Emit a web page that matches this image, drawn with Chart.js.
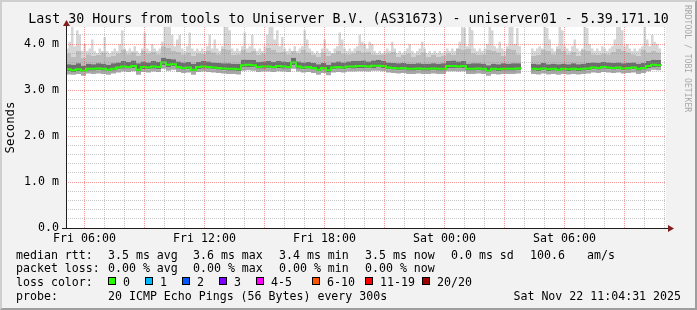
<!DOCTYPE html>
<html>
<head>
<meta charset="utf-8">
<title>SmokePing - uniserver01</title>
<script src="https://cdn.jsdelivr.net/npm/chart.js@4.4.1/dist/chart.umd.min.js"></script>
<style>
html,body{margin:0;padding:0;background:#f2f2f2;width:697px;height:310px;overflow:hidden;}
#wrap{position:relative;width:697px;height:310px;background:#f2f2f2;}
#c{position:absolute;left:0;top:0;}
.frame{position:absolute;left:0;top:0;width:693px;height:306px;border-style:solid;border-width:2px;border-color:#cfcfcf #9e9e9e #9e9e9e #cfcfcf;pointer-events:none;}
.t{position:absolute;font-family:'DejaVu Sans Mono',monospace;white-space:pre;color:#000;font-size:11.6px;line-height:14px;}
.title{left:0;width:697px;text-align:center;top:11px;font-size:13.3px;line-height:16px;}
.box{position:absolute;width:6px;height:6px;border:1px solid #000;top:277px;}
.wm{position:absolute;left:683px;top:5px;font-family:'DejaVu Sans Mono',monospace;font-size:8.1px;line-height:9px;color:#a8a8a8;writing-mode:vertical-rl;white-space:pre;}
</style>
</head>
<body>
<div id="wrap">
<canvas id="c" width="697" height="310"></canvas>
<div class="t title">Last 30 Hours from tools to Uniserver B.V. (AS31673) - uniserver01 - 5.39.171.10</div>
<div class="wm">RRDTOOL / TOBI OETIKER</div>
<div id="legend"></div>
<div class="frame"></div>
</div>
<script>
// ---- time axis ----
const startHour = 5 + 4/60 + 31/3600;   // Fri 05:04:31 (hours since Fri 00:00)
const spanHours = 30;
const stepHours = 0.25;      // median / smoke bands
const peakStepHours = 0.125; // highest ping
const xTickHours = [6, 12, 18, 24, 30];
const xTickLabels = ['Fri 06:00', 'Fri 12:00', 'Fri 18:00', 'Sat 00:00', 'Sat 06:00'];
const yTickValues = [0, 1, 2, 3, 4];
const yTickLabels = ['0.0', '1.0 m', '2.0 m', '3.0 m', '4.0 m'];
const yMax = 4.37;

// ---- series (ms) ----
const medianRtt = [
 3.45,3.43,3.45,3.42,3.46,3.46,3.47,3.46,3.44,3.46,
 3.49,3.51,3.50,3.52,3.44,3.50,3.49,3.51,3.50,3.60,
 3.55,3.56,3.50,3.48,3.49,3.44,3.50,3.51,3.50,3.49,
 3.48,3.47,3.46,3.46,3.45,3.54,3.55,3.54,3.50,3.51,
 3.51,3.50,3.52,3.51,3.50,3.60,3.51,3.49,3.50,3.48,
 3.44,3.48,3.43,3.49,3.50,3.49,3.51,3.51,3.52,3.52,
 3.51,3.53,3.53,3.52,3.49,3.48,3.47,3.48,3.46,3.46,
 3.47,3.46,3.46,3.47,3.46,3.46,3.52,3.52,3.51,3.52,
 3.46,3.46,3.47,3.46,3.42,3.46,3.45,3.46,3.46,3.46,
 3.47,3.46,null,3.46,3.45,3.47,3.45,3.46,3.44,3.46,
 3.45,3.46,3.45,3.46,3.47,3.49,3.48,3.50,3.49,3.48,
 3.49,3.47,3.48,3.49,3.46,3.48,3.52,3.55,3.54,3.53];

const smokeMax = [
 3.90,4.05,4.40,3.95,4.30,4.20,3.85,4.00,3.85,3.90,
 4.10,3.85,3.80,3.90,3.85,4.15,3.85,3.80,3.85,3.90,
 3.85,4.00,4.30,3.90,3.85,3.90,3.85,3.95,3.85,3.80,
 3.90,4.25,3.90,3.85,4.00,3.90,3.85,3.90,4.05,4.40,
 4.40,4.40,4.20,3.95,4.10,4.20,3.90,3.85,3.95,4.25,
 3.90,3.85,3.90,3.85,3.90,3.85,3.95,4.20,3.90,4.10,
 3.90,3.85,3.95,4.40,4.40,4.30,3.90,3.85,3.90,3.85,
 3.95,4.25,3.90,3.95,4.20,3.90,3.85,3.90,3.85,3.95,
 4.20,4.40,4.40,4.10,4.30,3.95,4.15,3.90,3.85,3.90,
 3.85,3.95,3.85,3.90,3.95,4.30,4.10,3.90,3.85,3.80,
 3.85,3.80,3.90,4.10,3.90,3.85,3.80,3.90,3.95,4.25,
 4.10,3.90,3.85,3.90,3.85,3.90,3.95,4.20,4.05,4.00,
 3.90,4.05,4.00,3.85,3.80,3.85,3.80,3.85,3.90,3.85,
 4.05,3.90,3.80,3.85,3.80,3.85,3.90,4.00,3.85,3.80,
 3.85,3.90,4.05,3.90,3.80,3.85,3.80,3.85,3.80,3.85,
 3.80,3.85,3.90,3.85,3.90,3.85,3.90,4.05,4.40,4.35,
 3.95,4.40,4.30,3.90,3.85,3.90,3.85,3.90,4.00,4.40,
 4.30,3.95,3.90,4.05,3.90,3.85,3.95,4.40,4.40,4.00,
 4.35,3.95,4.40,4.40,null,null,3.90,3.85,3.90,3.95,
 3.90,4.40,4.35,4.10,3.90,3.85,3.95,4.40,4.30,3.95,
 3.90,3.85,3.95,4.10,3.90,3.85,3.90,4.40,4.35,4.00,
 3.90,3.85,3.90,3.85,3.95,3.90,3.85,3.90,3.95,4.10,
 4.40,4.40,4.30,3.95,4.00,3.90,3.85,3.90,3.85,3.90,
 3.95,4.40,4.10,3.95,4.20,4.05,4.00,3.90,3.95,3.90];

const smokeMid = [
 3.80,3.72,3.85,3.70,3.78,3.74,3.76,3.82,3.72,3.75,
 3.80,3.88,3.78,3.82,3.74,3.86,3.80,3.84,3.78,3.95,
 3.92,3.86,3.84,3.78,3.82,3.74,3.80,3.79,3.86,3.82,
 3.78,3.90,3.88,3.76,3.78,3.88,3.82,3.86,3.76,3.80,
 3.92,3.88,3.82,3.84,3.78,3.85,3.80,3.88,3.82,3.76,
 3.72,3.82,3.74,3.80,3.86,3.80,3.78,3.80,3.86,3.82,
 3.84,3.78,3.76,3.78,3.80,3.84,3.72,3.76,3.80,3.72,
 3.76,3.82,3.72,3.76,3.72,3.75,3.80,3.76,3.90,3.88,
 3.90,3.80,3.76,3.78,3.88,3.86,3.82,3.74,3.90,3.88,
 3.78,3.88,null,3.74,3.76,3.88,3.86,3.78,3.90,3.86,
 3.78,3.84,3.74,3.88,3.86,3.78,3.76,3.80,3.78,3.84,
 3.90,3.86,3.82,3.78,3.74,3.88,3.82,3.86,3.82,3.80];

const smokeHi = [
 3.56,3.55,3.58,3.53,3.57,3.56,3.58,3.57,3.55,3.58,
 3.60,3.63,3.61,3.64,3.58,3.62,3.60,3.63,3.61,3.70,
 3.68,3.67,3.62,3.60,3.61,3.57,3.61,3.63,3.62,3.60,
 3.59,3.58,3.58,3.57,3.57,3.66,3.66,3.65,3.61,3.62,
 3.63,3.61,3.63,3.62,3.61,3.70,3.62,3.60,3.61,3.59,
 3.56,3.59,3.55,3.60,3.62,3.60,3.62,3.63,3.63,3.64,
 3.62,3.64,3.65,3.63,3.60,3.59,3.58,3.59,3.57,3.57,
 3.58,3.57,3.57,3.58,3.57,3.58,3.63,3.64,3.62,3.63,
 3.57,3.58,3.58,3.57,3.54,3.57,3.56,3.58,3.57,3.58,
 3.58,3.57,null,3.57,3.56,3.59,3.56,3.57,3.56,3.57,
 3.56,3.58,3.56,3.57,3.59,3.60,3.59,3.61,3.60,3.59,
 3.60,3.58,3.59,3.60,3.57,3.59,3.63,3.66,3.65,3.64];

const smokeLo = [
 3.41,3.39,3.41,3.38,3.42,3.42,3.43,3.42,3.40,3.42,
 3.45,3.46,3.46,3.47,3.40,3.45,3.45,3.46,3.45,3.54,
 3.50,3.51,3.46,3.44,3.45,3.40,3.45,3.46,3.46,3.45,
 3.44,3.43,3.42,3.42,3.41,3.49,3.50,3.49,3.46,3.46,
 3.47,3.46,3.47,3.46,3.46,3.54,3.46,3.45,3.46,3.44,
 3.40,3.44,3.39,3.45,3.46,3.45,3.47,3.46,3.47,3.48,
 3.47,3.48,3.49,3.47,3.45,3.44,3.43,3.44,3.42,3.42,
 3.43,3.42,3.42,3.43,3.42,3.42,3.47,3.48,3.47,3.47,
 3.42,3.42,3.43,3.42,3.38,3.42,3.41,3.42,3.42,3.42,
 3.43,3.42,null,3.42,3.41,3.43,3.41,3.42,3.40,3.42,
 3.41,3.42,3.41,3.42,3.43,3.45,3.44,3.46,3.45,3.44,
 3.45,3.43,3.44,3.45,3.42,3.44,3.47,3.50,3.49,3.48];

const smokeMin = [
 3.34,3.33,3.35,3.31,3.36,3.35,3.36,3.35,3.33,3.36,
 3.38,3.40,3.39,3.41,3.33,3.39,3.38,3.40,3.39,3.46,
 3.42,3.44,3.39,3.37,3.38,3.33,3.39,3.40,3.39,3.38,
 3.37,3.36,3.35,3.35,3.34,3.42,3.43,3.42,3.39,3.40,
 3.40,3.39,3.41,3.40,3.39,3.46,3.40,3.38,3.39,3.37,
 3.33,3.37,3.32,3.38,3.39,3.38,3.40,3.40,3.41,3.41,
 3.40,3.42,3.42,3.41,3.38,3.37,3.36,3.37,3.35,3.35,
 3.36,3.35,3.35,3.36,3.35,3.35,3.41,3.41,3.40,3.41,
 3.35,3.35,3.36,3.35,3.31,3.35,3.34,3.35,3.35,3.35,
 3.36,3.35,null,3.35,3.34,3.36,3.34,3.35,3.33,3.35,
 3.34,3.35,3.34,3.35,3.36,3.38,3.37,3.39,3.38,3.37,
 3.38,3.36,3.37,3.38,3.35,3.37,3.41,3.44,3.43,3.42];

// ---- legend text ----
const rttLabel = 'median rtt:';
const rttStats = ['3.5 ms avg', '3.6 ms max', '3.4 ms min', '3.5 ms now', '0.0 ms sd', '100.6', 'am/s'];
const lossLabel = 'packet loss:';
const lossStats = ['0.00 % avg', '0.00 % max', '0.00 % min', '0.00 % now'];
const lossColorLabel = 'loss color:';
const lossNames = ['0', '1', '2', '3', '4-5', '6-10', '11-19', '20/20'];
const lossColors = ['#26ff00', '#00b8ff', '#0059ff', '#7e00ff', '#ff00ff', '#ff5500', '#ff0000', '#a10000'];
const probeLabel = 'probe:';
const probeText = '20 ICMP Echo Pings (56 Bytes) every 300s';
const stampText = 'Sat Nov 22 11:04:31 2025';

// ---- legend layout ----
(function () {
  const L = document.getElementById('legend');
  function span(txt, left, top, extra) {
    const d = document.createElement('div');
    d.className = 't';
    d.textContent = txt;
    d.style.top = top + 'px';
    if (left !== null) d.style.left = left + 'px';
    if (extra) Object.assign(d.style, extra);
    L.appendChild(d);
  }
  const statX = [108, 193, 279, 365, 451, 530, 587];
  span(rttLabel, 16, 247.5);
  rttStats.forEach((s, i) => span(s, statX[i], 247.5));
  span(lossLabel, 16, 261.3);
  lossStats.forEach((s, i) => span(s, statX[i], 261.3));
  span(lossColorLabel, 16, 275.3);
  const boxX = [108, 145, 182, 219, 256, 312, 365, 422];
  lossNames.forEach((n, i) => {
    const b = document.createElement('div');
    b.className = 'box';
    b.style.left = boxX[i] + 'px';
    b.style.background = lossColors[i];
    L.appendChild(b);
    span(n, boxX[i] + 15, 275.3);
  });
  span(probeLabel, 16, 289);
  span(probeText, 108, 289);
  span(stampText, null, 289, {right: '16px'});
})();

// ---- chart ----
function pts(arr, step) { return arr.map((v, i) => ({x: startHour + step * i, y: v})); }
const hourTicks = [];
for (let h = Math.ceil(startHour); h <= startHour + spanHours; h++) hourTicks.push(h);
const yGrid = [];
for (let k = 0; k * 0.2 <= yMax; k++) yGrid.push(Math.round(k * 2) / 10);

const MINOR = 'rgba(143,143,143,0.5)';
const MAJOR = 'rgba(235,70,70,0.55)';
const MONO = "'DejaVu Sans Mono', monospace";

const bgPlugin = {
  id: 'bg',
  beforeDraw(chart) {
    const {ctx, chartArea: a} = chart;
    ctx.save();
    ctx.fillStyle = '#f2f2f2';
    ctx.fillRect(0, 0, chart.width, chart.height);
    ctx.fillStyle = '#ffffff';
    ctx.fillRect(a.left, a.top, a.right - a.left, a.bottom - a.top);
    ctx.restore();
  }
};
const axesPlugin = {
  id: 'axes',
  afterDraw(chart) {
    const {ctx, chartArea: a} = chart;
    ctx.save();
    ctx.fillStyle = '#1f1f1f';
    ctx.fillRect(a.left - 4, a.bottom, a.right - a.left + 7, 1);
    ctx.fillRect(a.left, a.top - 1, 1, a.bottom - a.top + 2);
    ctx.fillStyle = '#801f1f';
    ctx.beginPath();
    ctx.moveTo(a.right + 2, a.bottom - 3);
    ctx.lineTo(a.right + 8, a.bottom + 0.5);
    ctx.lineTo(a.right + 2, a.bottom + 4);
    ctx.closePath(); ctx.fill();
    ctx.beginPath();
    ctx.moveTo(a.left - 3, a.top - 1);
    ctx.lineTo(a.left + 0.5, a.top - 7);
    ctx.lineTo(a.left + 4, a.top - 1);
    ctx.closePath(); ctx.fill();
    ctx.restore();
  }
};

const smokeBase = {borderWidth: 0, pointRadius: 0, stepped: true, spanGaps: false};
new Chart(document.getElementById('c').getContext('2d'), {
  type: 'line',
  data: {
    datasets: [
      Object.assign({label: 'max', data: pts(smokeMax, peakStepHours), fill: '+1', backgroundColor: '#d6d6d6', order: 5}, smokeBase),
      Object.assign({label: 'upper', data: pts(smokeMid, stepHours), fill: '+1', backgroundColor: '#bcbcbc', order: 4}, smokeBase),
      Object.assign({label: 'core', data: pts(smokeHi, stepHours), fill: '+1', backgroundColor: '#6e6e6e', order: 3}, smokeBase),
      Object.assign({label: 'lower', data: pts(smokeLo, stepHours), fill: '+1', backgroundColor: '#a8a8a8', order: 2}, smokeBase),
      Object.assign({label: 'min', data: pts(smokeMin, stepHours), fill: false, backgroundColor: 'transparent', order: 1}, smokeBase),
      {label: 'median rtt', data: pts(medianRtt, stepHours), fill: false, borderColor: '#26ff00', borderWidth: 2,
       pointRadius: 0, stepped: true, spanGaps: false, order: 0}
    ]
  },
  options: {
    responsive: false,
    animation: false,
    devicePixelRatio: 1,
    layout: {padding: {top: 27, right: 31, bottom: 0, left: 0}},
    plugins: {legend: {display: false}, tooltip: {enabled: false}},
    scales: {
      x: {
        type: 'linear', min: startHour, max: startHour + spanHours,
        afterFit(s) { s.height = 82; },
        afterBuildTicks(s) { s.ticks = hourTicks.map(v => ({value: v})); },
        grid: {z: 1, drawTicks: false, lineWidth: 1,
               color: c => (c.tick && c.tick.value % 3 === 0) ? MAJOR : MINOR},
        border: {display: false, dash: [1, 1]},
        ticks: {autoSkip: false, maxRotation: 0, minRotation: 0, padding: 4, color: '#000',
                font: {family: MONO, size: 11.6},
                callback: v => { const k = xTickHours.indexOf(v); return k >= 0 ? xTickLabels[k] : ''; }}
      },
      y: {
        type: 'linear', min: 0, max: yMax,
        afterFit(s) { s.width = 66; },
        afterBuildTicks(s) { s.ticks = yGrid.map(v => ({value: v})); },
        grid: {z: 1, drawTicks: false, lineWidth: 1,
               color: c => (c.tick && Math.abs(c.tick.value - Math.round(c.tick.value)) < 1e-6) ? MAJOR : MINOR},
        border: {display: false, dash: [1, 1]},
        ticks: {autoSkip: false, padding: 7, color: '#000', font: {family: MONO, size: 11.6},
                callback: v => { const k = yTickValues.findIndex(u => Math.abs(u - v) < 1e-6); return k >= 0 ? yTickLabels[k] : ''; }},
        title: {display: true, text: 'Seconds', color: '#000', font: {family: MONO, size: 12.3},
                padding: {top: 3, bottom: 0}}
      }
    }
  },
  plugins: [bgPlugin, axesPlugin]
});
</script>
</body>
</html>
